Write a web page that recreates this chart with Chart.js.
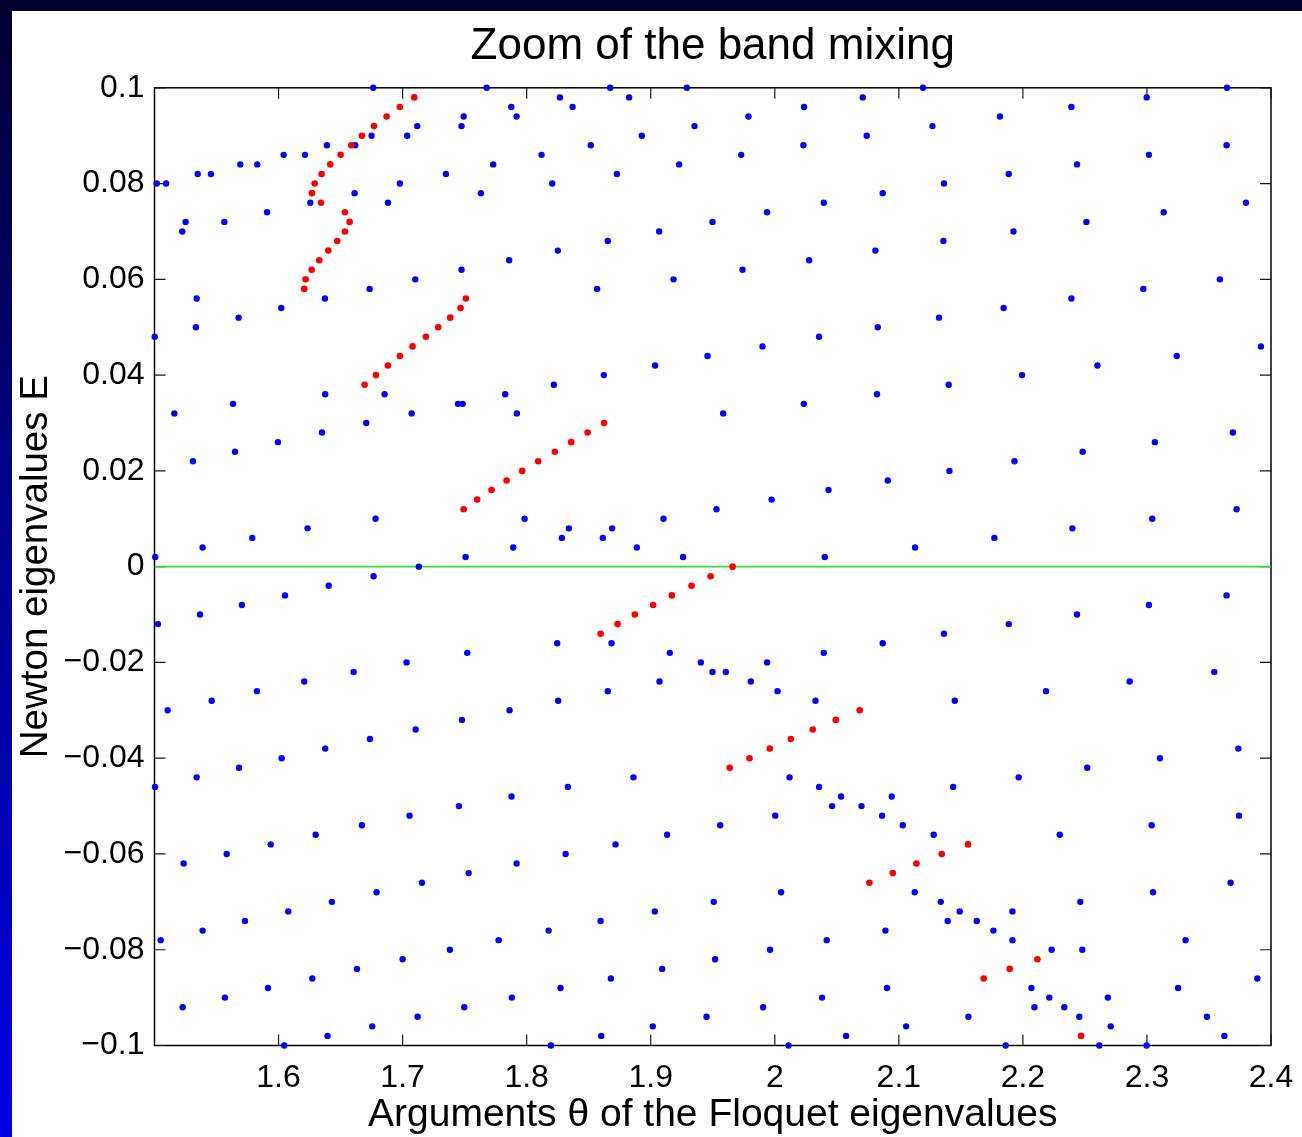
<!DOCTYPE html>
<html><head><meta charset="utf-8">
<script src="https://cdn.jsdelivr.net/npm/chart.js@4.4.0/dist/chart.umd.min.js"></script>
<style>
html,body{margin:0;padding:0;}
body{width:1302px;height:1137px;overflow:hidden;position:relative;background:linear-gradient(180deg,#00002e 0%,#00008c 45%,#0000e6 100%);}
#panel{position:absolute;left:12px;top:11px;right:0;bottom:0;background:#fff;}
#wrap{position:absolute;left:0;top:0;width:1302px;height:1137px;}
</style></head><body>
<div id="panel"></div>
<div id="wrap"><canvas id="c" width="1302" height="1137"></canvas></div>
<script>
// ---- data ----
const xTickValues = [1.6,1.7,1.8,1.9,2.0,2.1,2.2,2.3,2.4];
const yTickValues = [-0.1,-0.08,-0.06,-0.04,-0.02,0,0.02,0.04,0.06,0.08,0.1];
const zeroLineTheta = [1.5, 2.4];
const zeroLineE = [0, 0];

const blueTheta = [
1.6763,1.7118,1.7037,1.6750,1.6618,1.6390,1.6213,1.6041,1.5829,1.5692,1.5455,1.5348,1.5093,1.5018,1.6978,1.6613,1.6256,1.6882,1.5907,1.5251,1.5563,1.5224,1.7102,1.6734,1.5340,1.6374,1.6022,1.5678,1.5334,1.5002,1.6376,1.6855,1.5633,
1.7677,1.8673,1.9291,1.8268,1.8826,1.7876,1.8370,1.7492,1.7919,1.7475,1.9353,1.8928,1.8517,1.8120,1.7730,1.9229,1.7349,1.8727,1.8206,1.7631,1.9068,1.8654,1.8251,1.7859,1.7475,1.9184,1.8568,1.9458,1.9035,1.8622,1.8219,1.7827,1.7446,1.7484,
2.1195,2.0709,2.0236,1.9788,2.1271,2.0741,2.0231,1.9729,2.1364,2.0870,2.0395,1.9938,1.9498,2.1359,2.0811,2.0277,1.9740,2.1324,2.0830,2.0357,1.9901,2.1402,2.0824,2.0234,
2.3645,2.2998,2.2391,2.1815,2.3642,2.3016,2.2436,2.1886,2.3798,2.3135,2.2512,2.1924,2.3588,2.2971,2.2391,2.1845,2.3919,2.3240,2.2601,2.1993,
1.5160,1.7073,1.6707,1.6350,1.5995,1.5649,1.5310,1.6782,1.6234,1.5788,1.5388,1.5006,1.7131,1.6766,1.6404,1.6052,1.5705,1.5367,1.5028,1.7032,1.6605,1.6207,1.5826,1.5461,1.5106,1.7105,
1.7921,1.7983,1.8340,1.8689,1.8284,1.8614,1.9103,1.7892,1.8888,1.7508,1.9261,1.7521,1.8246,1.8684,1.9154,1.9404,1.9071,1.8654,1.8254,1.7862,1.7478,
1.9584,2.1408,2.0911,2.0433,1.9974,1.9530,2.1131,2.0403,2.0870,2.1364,2.0395,1.9938,1.9498,1.9605,1.9807,2.0022,2.0328,2.1451,
2.3693,2.3064,2.2482,2.1932,2.3723,2.3043,2.2399,2.1770,2.3642,2.3016,2.2436,2.1886,2.3543,2.2861,2.2186,
1.6737,1.6376,1.6025,1.5681,1.5340,1.5004,1.7056,1.6672,1.6299,1.5936,1.5582,1.5235,1.7156,1.6790,1.6430,1.6078,1.5729,1.5388,1.5050,1.7000,1.6632,1.6272,1.5915,1.5568,1.5227,1.7121,1.6755,1.6395,1.6046,
1.8861,1.8332,1.7878,1.7454,1.9132,1.8716,1.8314,1.7919,1.7532,1.9033,1.8596,1.8177,1.7774,1.7381,1.9092,1.8679,1.8273,1.7881,1.7497,1.9450,1.9017,1.8601,1.8195,
2.0119,2.0357,2.0534,2.0462,2.0699,2.0943,2.1438,2.0865,2.1032,2.1281,2.0004,1.9560,2.0051,1.9508,2.1128,2.1338,2.1491,2.1394,2.1628,2.0892,2.0419,1.9962,1.9519,2.0905,2.0381,1.9906,2.1561,2.1059,2.0575,2.0111,
2.3737,2.3105,2.2519,2.1966,2.3742,2.3038,2.2297,2.3674,2.3049,2.2463,2.1916,2.1762,2.1916,2.2232,2.2479,2.3311,2.3890,2.3251,2.2069,2.2213,2.2685,2.2093,2.2334,2.2455,2.3484,2.2708,2.3624,2.1861,2.2616,2.2997
];
const blueE = [
0.100,0.092,0.090,0.090,0.088,0.088,0.086,0.086,0.084,0.084,0.082,0.082,0.080,0.080,0.080,0.078,0.076,0.076,0.074,0.072,0.072,0.070,0.060,0.058,0.056,0.056,0.054,0.052,0.050,0.048,0.036,0.036,0.034,
0.100,0.100,0.100,0.098,0.098,0.096,0.096,0.094,0.094,0.092,0.092,0.090,0.088,0.086,0.084,0.084,0.082,0.082,0.080,0.078,0.070,0.068,0.066,0.064,0.062,0.060,0.058,0.044,0.042,0.040,0.038,0.036,0.034,0.034,
0.100,0.098,0.096,0.094,0.092,0.090,0.088,0.086,0.080,0.078,0.076,0.074,0.072,0.068,0.066,0.064,0.062,0.052,0.050,0.048,0.046,0.038,0.036,0.034,
0.100,0.098,0.096,0.094,0.088,0.086,0.084,0.082,0.076,0.074,0.072,0.070,0.060,0.058,0.056,0.054,0.046,0.044,0.042,0.040,
0.032,0.032,0.030,0.028,0.026,0.024,0.022,0.010,0.008,0.006,0.004,0.002,0.000,-0.002,-0.004,-0.006,-0.008,-0.010,-0.012,-0.020,-0.022,-0.024,-0.026,-0.028,-0.030,-0.034,
0.032,0.010,0.008,0.008,0.006,0.006,0.010,0.004,0.004,0.002,0.002,-0.018,-0.016,-0.016,-0.018,-0.020,-0.024,-0.026,-0.028,-0.030,-0.032,
0.032,0.020,0.018,0.016,0.014,0.012,0.004,0.002,-0.016,-0.014,-0.018,-0.020,-0.022,-0.022,-0.024,-0.026,-0.028,-0.028,
0.028,0.026,0.024,0.022,0.012,0.010,0.008,0.006,-0.006,-0.008,-0.010,-0.012,-0.022,-0.024,-0.026,
-0.036,-0.038,-0.040,-0.042,-0.044,-0.046,-0.052,-0.054,-0.056,-0.058,-0.060,-0.062,-0.066,-0.068,-0.070,-0.072,-0.074,-0.076,-0.078,-0.082,-0.084,-0.086,-0.088,-0.090,-0.092,-0.094,-0.096,-0.098,-0.100,
-0.044,-0.046,-0.048,-0.050,-0.056,-0.058,-0.060,-0.062,-0.064,-0.072,-0.074,-0.076,-0.078,-0.080,-0.084,-0.086,-0.088,-0.090,-0.092,-0.094,-0.096,-0.098,-0.100,
-0.044,-0.046,-0.048,-0.050,-0.050,-0.048,-0.046,-0.052,-0.054,-0.056,-0.052,-0.054,-0.068,-0.070,-0.068,-0.070,-0.072,-0.074,-0.074,-0.076,-0.078,-0.080,-0.082,-0.088,-0.090,-0.092,-0.094,-0.096,-0.098,-0.100,
-0.038,-0.040,-0.042,-0.044,-0.052,-0.054,-0.056,-0.066,-0.068,-0.070,-0.072,-0.076,-0.078,-0.080,-0.080,-0.078,-0.086,-0.088,-0.088,-0.090,-0.090,-0.092,-0.092,-0.094,-0.094,-0.096,-0.098,-0.100,-0.100,-0.100
];

const redTheta = [
1.7094,1.6978,1.6871,1.6769,1.6672,1.6586,1.6500,1.6417,1.6347,1.6291,1.6269,1.6342,1.6535,1.6573,1.6535,1.6473,1.6401,1.6328,1.6267,1.6218,1.6207,
1.7510,1.7467,1.7384,1.7287,1.7188,1.7080,1.6978,1.6882,1.6785,1.6694,
1.8624,1.8491,1.8359,1.8227,1.8093,1.7964,1.7838,1.7717,1.7601,1.7492,
1.9660,1.9483,1.9329,1.9170,1.9019,1.8872,1.8733,1.8596,
2.0685,2.0492,2.0306,2.0129,1.9960,1.9796,1.9637,
2.1558,2.1346,2.1142,2.0951,2.0763,
2.2117,2.1894,2.1684,
2.2469
];
const redE = [
0.098,0.096,0.094,0.092,0.090,0.088,0.086,0.084,0.082,0.080,0.078,0.076,0.074,0.072,0.070,0.068,0.066,0.064,0.062,0.060,0.058,
0.056,0.054,0.052,0.050,0.048,0.046,0.044,0.042,0.040,0.038,
0.030,0.028,0.026,0.024,0.022,0.020,0.018,0.016,0.014,0.012,
0.000,-0.002,-0.004,-0.006,-0.008,-0.010,-0.012,-0.014,
-0.030,-0.032,-0.034,-0.036,-0.038,-0.040,-0.042,
-0.058,-0.060,-0.062,-0.064,-0.066,
-0.082,-0.084,-0.086,
-0.098
];

const titleText = 'Zoom of the band mixing';
const xLabel = 'Arguments \u03B8 of the Floquet eigenvalues';
const yLabel = 'Newton eigenvalues E';

// ---- build ----
const pts = (xs, ys) => xs.map((x, i) => ({x: x, y: ys[i]}));
const FONT = '"Liberation Sans", Arial, Helvetica, sans-serif';

const fmtX = v => String(+(+v).toFixed(1));
const fmtY = v => { const r = +(+v).toFixed(2); return r < 0 ? '\u2212' + String(-r) : String(r); };

const boxPlugin = {
  id: 'matlabBox',
  beforeDatasetsDraw(chart) {
    const {ctx, chartArea: a, scales: {x, y}} = chart;
    ctx.save();
    ctx.strokeStyle = '#000';
    ctx.lineWidth = 1.5;
    ctx.strokeRect(a.left, a.top, a.right - a.left, a.bottom - a.top);
    ctx.lineWidth = 1.2;
    ctx.strokeStyle = '#1a1a1a';
    const L = 11;
    ctx.beginPath();
    x.ticks.forEach(t => {
      const px = x.getPixelForValue(t.value);
      ctx.moveTo(px, a.bottom); ctx.lineTo(px, a.bottom - L);
      ctx.moveTo(px, a.top); ctx.lineTo(px, a.top + L);
    });
    y.ticks.forEach(t => {
      const py = y.getPixelForValue(t.value);
      ctx.moveTo(a.left, py); ctx.lineTo(a.left + L, py);
      ctx.moveTo(a.right, py); ctx.lineTo(a.right - L, py);
    });
    ctx.stroke();
    ctx.restore();
  }
};

new Chart(document.getElementById('c').getContext('2d'), {
  type: 'scatter',
  data: {
    datasets: [
      {label: 'red', data: pts(redTheta, redE), backgroundColor: '#ff0000', borderWidth: 0,
       pointRadius: 3.3, pointHoverRadius: 3.3, clip: false},
      {label: 'blue', data: pts(blueTheta, blueE), backgroundColor: '#0000ff', borderWidth: 0,
       pointRadius: 3.2, pointHoverRadius: 3.2, clip: false},
      {label: 'zero', type: 'line', data: pts(zeroLineTheta, zeroLineE), borderColor: '#33dd33',
       borderWidth: 1.6, pointRadius: 0, showLine: true, fill: false}
    ]
  },
  options: {
    responsive: false, animation: false, devicePixelRatio: 1,
    layout: {padding: {left: 0, top: 0, right: 31, bottom: 0}},
    events: [],
    plugins: {
      legend: {display: false},
      tooltip: {enabled: false},
      title: {display: true, text: titleText, fullSize: false, color: '#000',
        font: {family: FONT, size: 44, weight: 'normal', lineHeight: 1.2},
        padding: {top: 20, bottom: 15}}
    },
    scales: {
      x: {
        type: 'linear', min: 1.5, max: 2.4,
        afterBuildTicks: s => { s.ticks = xTickValues.map(v => ({value: v})); },
        afterFit: s => { s.height = 91.5; s.paddingLeft = 0; s.paddingRight = 0; },
        grid: {display: false, drawTicks: false}, border: {display: false},
        ticks: {padding: 13, color: '#000', font: {family: FONT, size: 32}, callback: v => fmtX(v),
          maxRotation: 0, autoSkip: false},
        title: {display: true, text: xLabel, color: '#000',
          font: {family: FONT, size: 39, lineHeight: 1.1}, padding: {top: 0, bottom: 0}}
      },
      y: {
        type: 'linear', min: -0.1, max: 0.1,
        afterBuildTicks: s => { s.ticks = yTickValues.map(v => ({value: v})); },
        afterFit: s => { s.width = 154.5; s.paddingTop = 0; s.paddingBottom = 0; },
        grid: {display: false, drawTicks: false}, border: {display: false},
        ticks: {padding: 10, color: '#000', font: {family: FONT, size: 32}, callback: v => fmtY(v),
          autoSkip: false},
        title: {display: true, text: yLabel, color: '#000',
          font: {family: FONT, size: 38.5, lineHeight: 1.2}, padding: {top: 13, bottom: 0}}
      }
    }
  },
  plugins: [boxPlugin]
});
</script>
</body></html>
